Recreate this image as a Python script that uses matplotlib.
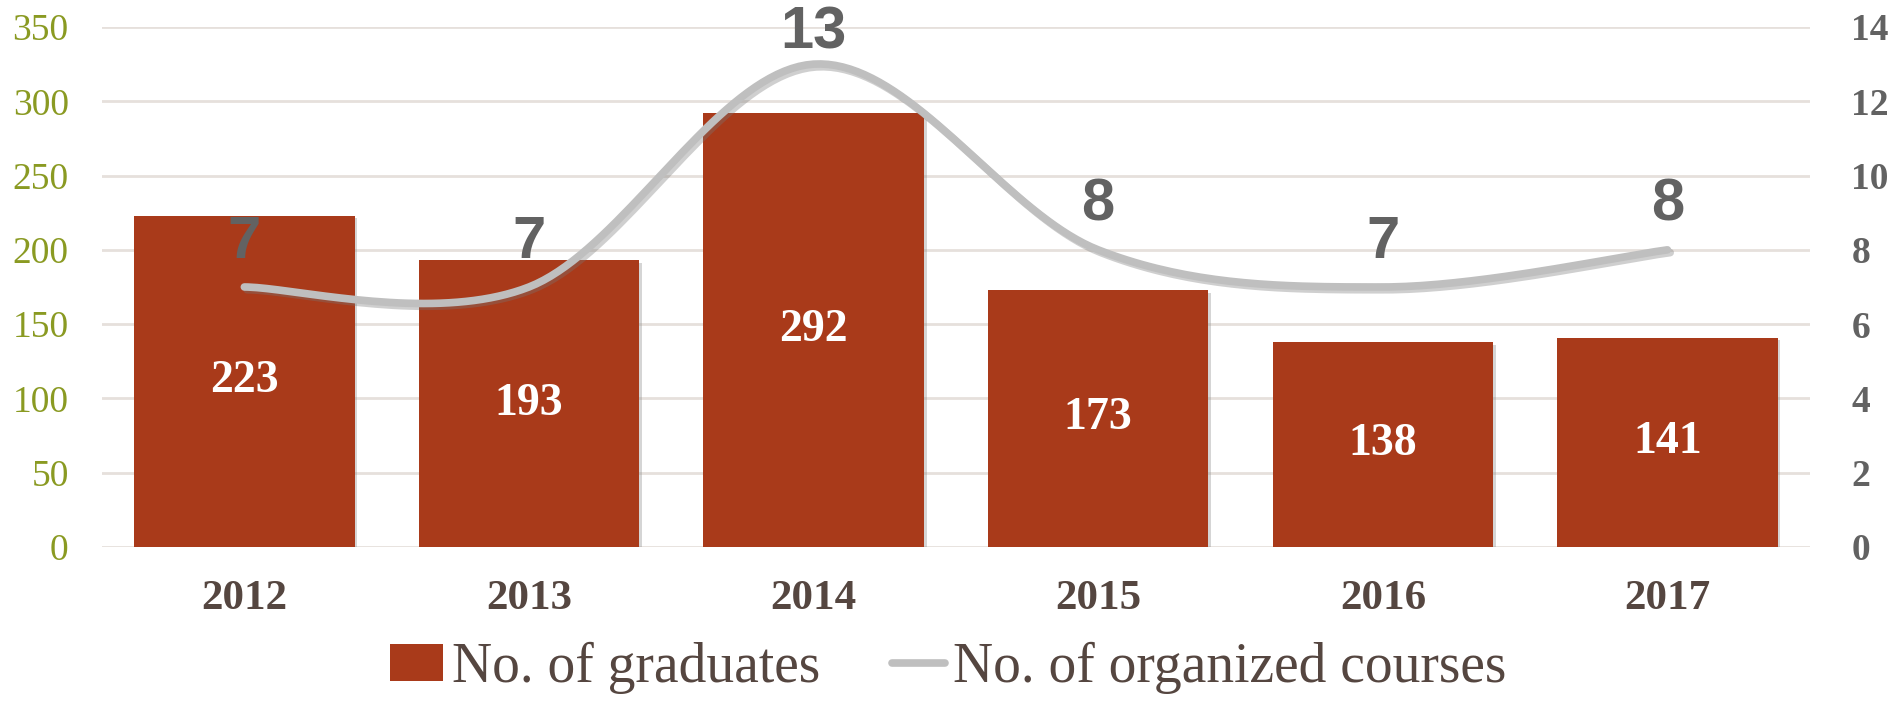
import numpy as np
import matplotlib.pyplot as plt
import matplotlib.patheffects as pe
from matplotlib.lines import Line2D
from matplotlib.patches import Patch

years = ['2012', '2013', '2014', '2015', '2016', '2017']
graduates = [223, 193, 292, 173, 138, 141]
courses = [7, 7, 13, 8, 7, 8]

BAR = '#A93A1A'
LINE = '#BFBFBF'
BROWN = '#554640'
OLIVE = '#8A9A22'
GRAY = '#626262'
GRID = '#E6E0DC'
SERIF = 'Liberation Serif'


def smooth(x, y, n=40):
    # Bezier segments with Catmull-Rom control points (like Excel "smoothed line")
    x = np.asarray(x, float)
    y = np.asarray(y, float)
    px = np.concatenate([[x[0]], x, [x[-1]]])
    py = np.concatenate([[y[0]], y, [y[-1]]])
    xs, ys = [], []
    s = np.linspace(0, 1, n)
    for i in range(len(x) - 1):
        p0 = np.array([px[i + 1], py[i + 1]])
        p3 = np.array([px[i + 2], py[i + 2]])
        c1 = p0 + (np.array([px[i + 2], py[i + 2]]) - np.array([px[i], py[i]])) / 6
        c2 = p3 - (np.array([px[i + 3], py[i + 3]]) - np.array([px[i + 1], py[i + 1]])) / 6
        for t in s:
            b = ((1 - t) ** 3) * p0 + 3 * ((1 - t) ** 2) * t * c1 + 3 * (1 - t) * t * t * c2 + t ** 3 * p3
            xs.append(b[0])
            ys.append(b[1])
    return np.array(xs), np.array(ys)


fig = plt.figure(figsize=(18.97, 7.01), dpi=100)
ax = fig.add_axes([0.0538, 0.2197, 0.9002, 0.7418])
ax2 = ax.twinx()

x = np.arange(len(years))
shadow = [pe.SimplePatchShadow(offset=(2, -2), shadow_rgbFace='#888888', alpha=0.35), pe.Normal()]
bars = ax.bar(x, graduates, width=0.775, color=BAR, zorder=2, path_effects=shadow)
for xi, v in zip(x, graduates):
    ax.text(xi, v / 2, str(v), ha='center', va='center', color='white',
            fontsize=33, fontweight='bold', family=SERIF, zorder=3)

ax.set_ylim(0, 350)
ax.set_yticks(np.arange(0, 351, 50))
ax.set_xlim(-0.5, len(years) - 0.5)
ax.set_xticks(x)
ax.set_xticklabels(years)
ax.yaxis.grid(True, color=GRID, linewidth=2, zorder=0)
ax.set_axisbelow(True)

sx, sy = smooth(x, courses)
ax2.plot(sx, sy, color=LINE, linewidth=5.5, solid_capstyle='round', zorder=4,
         path_effects=[pe.SimpleLineShadow(offset=(2, -2), shadow_color='#777777', alpha=0.35), pe.Normal()])
for xi, v in zip(x, courses):
    ax2.text(xi, min(v + 1.2, 13.85), str(v), ha='center', va='center', color=GRAY,
             fontsize=43, fontweight='bold', family='Liberation Sans', zorder=5)
ax2.set_ylim(0, 14)
ax2.set_yticks(np.arange(0, 15, 2))

for a in (ax, ax2):
    for sp in a.spines.values():
        sp.set_visible(False)
    a.tick_params(length=0)

ax.tick_params(axis='y', labelsize=27, labelcolor=OLIVE, pad=24)
ax.tick_params(axis='x', labelsize=31, labelcolor=BROWN, pad=24)
for lab in ax.get_yticklabels():
    lab.set_family(SERIF)
for lab in ax.get_xticklabels():
    lab.set_family(SERIF)
    lab.set_fontweight('bold')
ax2.tick_params(axis='y', labelsize=27, labelcolor=GRAY, pad=30)
for lab in ax2.get_yticklabels():
    lab.set_family(SERIF)
    lab.set_fontweight('bold')

handles = [Patch(facecolor=BAR, label='No. of graduates'),
           Line2D([0], [0], color=LINE, linewidth=5.5, solid_capstyle='round', label='No. of organized courses')]
fig.legend(handles=handles, loc='center', bbox_to_anchor=(0.5, 0.047), ncol=2, frameon=False,
           prop={'family': SERIF, 'size': 40}, labelcolor=BROWN,
           handlelength=0.95, handleheight=0.65, handletextpad=0.15, columnspacing=1.3)

fig.savefig('out.png', dpi=100)
